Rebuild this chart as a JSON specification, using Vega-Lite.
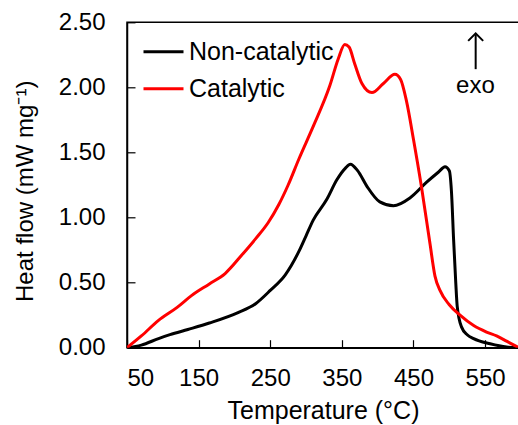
{
  "$schema": "https://vega.github.io/schema/vega-lite/v6.json",
  "width": 392,
  "height": 325.4,
  "autosize": {"type": "none"},
  "padding": {"left": 127, "top": 22.3, "right": 0, "bottom": 77.3},
  "background": "white",
  "config": {
    "view": {"stroke": "black", "strokeWidth": 1.5},
    "font": "Liberation Sans",
    "axis": {"grid": false, "domainColor": "black", "domainWidth": 1.5, "tickColor": "black", "tickWidth": 1.2, "tickSize": -8, "labelColor": "black", "titleColor": "black", "labelFont": "Liberation Sans", "titleFont": "Liberation Sans", "labelFontSize": 24, "titleFontSize": 25, "titleFontWeight": "normal"}
  },
  "data": {"values": [
    {"T": 50, "HF": 0, "series": "Non-catalytic"},
    {"T": 70, "HF": 0.02, "series": "Non-catalytic"},
    {"T": 94, "HF": 0.07, "series": "Non-catalytic"},
    {"T": 110, "HF": 0.1, "series": "Non-catalytic"},
    {"T": 135, "HF": 0.14, "series": "Non-catalytic"},
    {"T": 165, "HF": 0.19, "series": "Non-catalytic"},
    {"T": 205, "HF": 0.27, "series": "Non-catalytic"},
    {"T": 230, "HF": 0.34, "series": "Non-catalytic"},
    {"T": 250, "HF": 0.44, "series": "Non-catalytic"},
    {"T": 271, "HF": 0.56, "series": "Non-catalytic"},
    {"T": 290, "HF": 0.74, "series": "Non-catalytic"},
    {"T": 300, "HF": 0.86, "series": "Non-catalytic"},
    {"T": 310, "HF": 0.98, "series": "Non-catalytic"},
    {"T": 329, "HF": 1.14, "series": "Non-catalytic"},
    {"T": 343, "HF": 1.29, "series": "Non-catalytic"},
    {"T": 355, "HF": 1.38, "series": "Non-catalytic"},
    {"T": 362, "HF": 1.41, "series": "Non-catalytic"},
    {"T": 372, "HF": 1.36, "series": "Non-catalytic"},
    {"T": 385, "HF": 1.24, "series": "Non-catalytic"},
    {"T": 403, "HF": 1.12, "series": "Non-catalytic"},
    {"T": 422, "HF": 1.09, "series": "Non-catalytic"},
    {"T": 445, "HF": 1.15, "series": "Non-catalytic"},
    {"T": 468, "HF": 1.27, "series": "Non-catalytic"},
    {"T": 485, "HF": 1.35, "series": "Non-catalytic"},
    {"T": 494, "HF": 1.39, "series": "Non-catalytic"},
    {"T": 500, "HF": 1.36, "series": "Non-catalytic"},
    {"T": 503, "HF": 1.2, "series": "Non-catalytic"},
    {"T": 506, "HF": 0.83, "series": "Non-catalytic"},
    {"T": 509, "HF": 0.5, "series": "Non-catalytic"},
    {"T": 511, "HF": 0.32, "series": "Non-catalytic"},
    {"T": 517, "HF": 0.16, "series": "Non-catalytic"},
    {"T": 525, "HF": 0.1, "series": "Non-catalytic"},
    {"T": 534, "HF": 0.07, "series": "Non-catalytic"},
    {"T": 557, "HF": 0.03, "series": "Non-catalytic"},
    {"T": 580, "HF": 0.005, "series": "Non-catalytic"},
    {"T": 597, "HF": 0, "series": "Non-catalytic"},
    {"T": 50, "HF": 0, "series": "Catalytic"},
    {"T": 70, "HF": 0.09, "series": "Catalytic"},
    {"T": 94, "HF": 0.21, "series": "Catalytic"},
    {"T": 120, "HF": 0.31, "series": "Catalytic"},
    {"T": 140, "HF": 0.4, "series": "Catalytic"},
    {"T": 165, "HF": 0.49, "series": "Catalytic"},
    {"T": 187, "HF": 0.57, "series": "Catalytic"},
    {"T": 210, "HF": 0.71, "series": "Catalytic"},
    {"T": 230, "HF": 0.84, "series": "Catalytic"},
    {"T": 247, "HF": 0.96, "series": "Catalytic"},
    {"T": 262, "HF": 1.1, "series": "Catalytic"},
    {"T": 275, "HF": 1.25, "series": "Catalytic"},
    {"T": 290, "HF": 1.45, "series": "Catalytic"},
    {"T": 310, "HF": 1.7, "series": "Catalytic"},
    {"T": 333, "HF": 2.01, "series": "Catalytic"},
    {"T": 345, "HF": 2.22, "series": "Catalytic"},
    {"T": 354, "HF": 2.33, "series": "Catalytic"},
    {"T": 360, "HF": 2.31, "series": "Catalytic"},
    {"T": 368, "HF": 2.18, "series": "Catalytic"},
    {"T": 378, "HF": 2.03, "series": "Catalytic"},
    {"T": 392, "HF": 1.96, "series": "Catalytic"},
    {"T": 408, "HF": 2.03, "series": "Catalytic"},
    {"T": 424, "HF": 2.1, "series": "Catalytic"},
    {"T": 432, "HF": 2.06, "series": "Catalytic"},
    {"T": 440, "HF": 1.9, "series": "Catalytic"},
    {"T": 450, "HF": 1.6, "series": "Catalytic"},
    {"T": 461, "HF": 1.24, "series": "Catalytic"},
    {"T": 473, "HF": 0.8, "series": "Catalytic"},
    {"T": 480, "HF": 0.55, "series": "Catalytic"},
    {"T": 487, "HF": 0.44, "series": "Catalytic"},
    {"T": 500, "HF": 0.33, "series": "Catalytic"},
    {"T": 515, "HF": 0.25, "series": "Catalytic"},
    {"T": 534, "HF": 0.17, "series": "Catalytic"},
    {"T": 552, "HF": 0.12, "series": "Catalytic"},
    {"T": 566, "HF": 0.09, "series": "Catalytic"},
    {"T": 580, "HF": 0.05, "series": "Catalytic"},
    {"T": 597, "HF": 0, "series": "Catalytic"}
  ]},
  "layer": [
    {
      "mark": {"type": "line", "strokeWidth": 3, "interpolate": "monotone", "clip": true},
      "encoding": {
        "x": {"field": "T", "type": "quantitative", "scale": {"domain": [50, 597.3], "nice": false, "zero": false},
          "axis": {"values": [50, 150, 250, 350, 450, 550], "format": "d", "labelPadding": 27, "labelBaseline": "top", "title": "Temperature (°C)", "titleX": 196, "titleY": 71, "titleBaseline": "alphabetic", "titleAnchor": null}},
        "y": {"field": "HF", "type": "quantitative", "scale": {"domain": [0, 2.5], "nice": false, "zero": true},
          "axis": {"values": [0, 0.5, 1, 1.5, 2, 2.5], "format": ".2f", "labelPadding": 30, "title": "Heat flow (mW mg⁻¹)", "titleFontSize": 24, "titleX": -102, "titleY": 168.5, "titleBaseline": "middle", "titleAngle": -90, "titleAlign": "center"}},
        "color": {"field": "series", "type": "nominal", "scale": {"domain": ["Non-catalytic", "Catalytic"], "range": ["#000000", "#ff0000"]},
          "legend": {"orient": "none", "legendX": 15, "legendY": 8, "title": null, "symbolType": "stroke", "symbolSize": 1600, "symbolStrokeWidth": 3, "labelFontSize": 25, "labelFont": "Liberation Sans", "labelColor": "black", "labelOffset": 4, "padding": 0, "rowPadding": 2}}
      }
    },
    {
      "data": {"values": [{"T": 536.8, "HF": 2.14, "HF2": 2.405}]},
      "mark": {"type": "rule", "color": "black", "strokeWidth": 2},
      "encoding": {"x": {"field": "T", "type": "quantitative"}, "y": {"field": "HF", "type": "quantitative"}, "y2": {"field": "HF2"}}
    },
    {
      "data": {"values": [{"T": 536.8, "HF": 2.415}]},
      "mark": {"type": "point", "shape": "M-1,1L0,0L1,1", "size": 225, "filled": false, "color": "black", "strokeWidth": 2, "opacity": 1},
      "encoding": {"x": {"field": "T", "type": "quantitative"}, "y": {"field": "HF", "type": "quantitative"}}
    },
    {
      "data": {"values": [{"T": 536.5, "HF": 1.96, "label": "exo"}]},
      "mark": {"type": "text", "fontSize": 24, "font": "Liberation Sans", "color": "black", "align": "center", "baseline": "alphabetic"},
      "encoding": {"x": {"field": "T", "type": "quantitative"}, "y": {"field": "HF", "type": "quantitative"}, "text": {"field": "label"}}
    }
  ]
}
